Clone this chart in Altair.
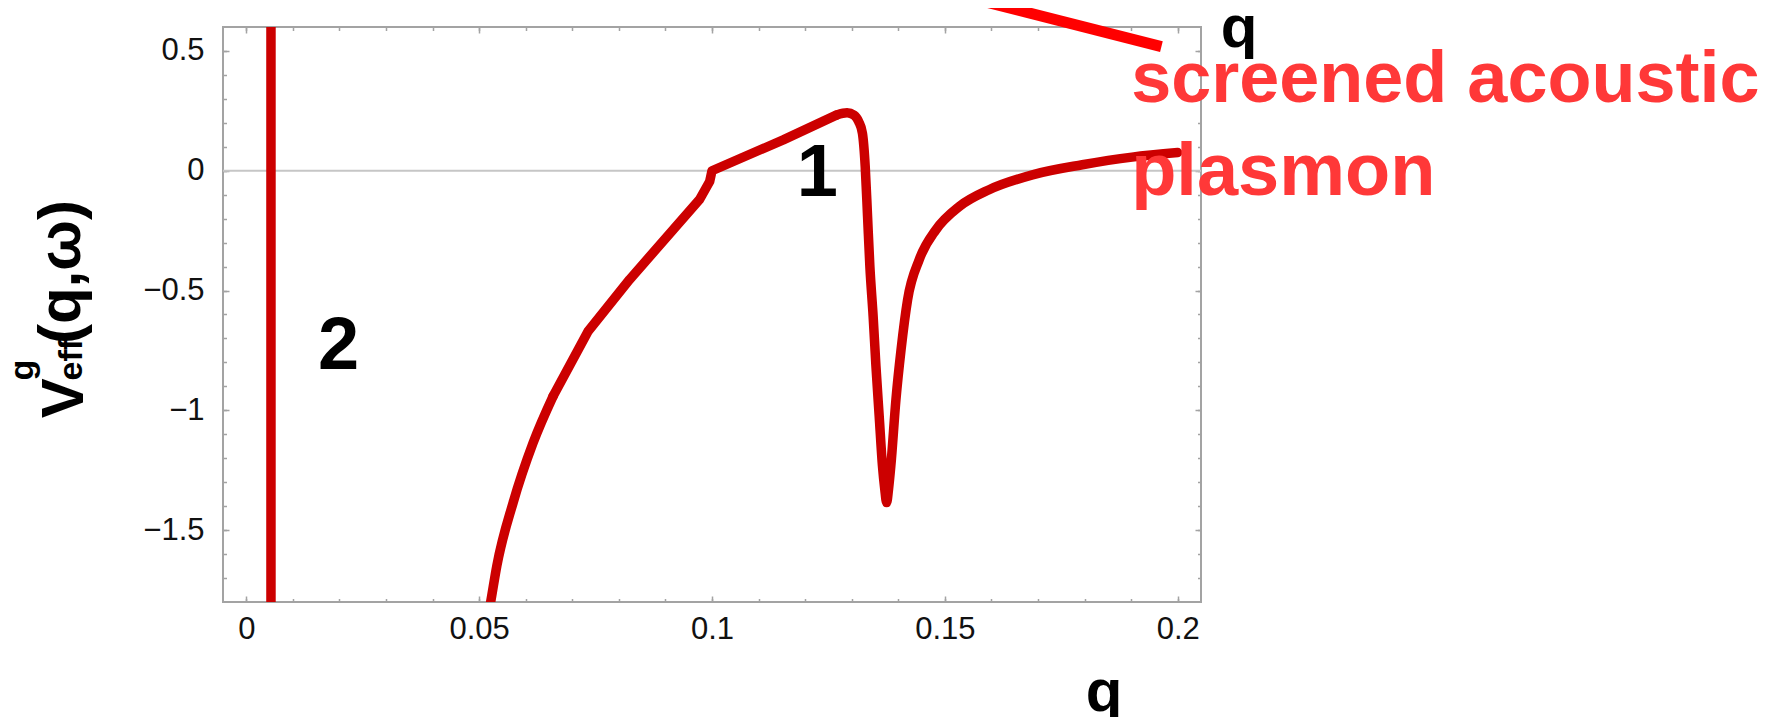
import altair as alt
import pandas as pd

# ---------------- data ----------------
# curve "1", lower part (smooth)
q_low = [0.0522, 0.0525, 0.0538, 0.0573, 0.0616, 0.0659]
v_low = [-1.830, -1.797, -1.649, -1.385, -1.135, -0.940]
# curve "1", middle part (piecewise straight, kink at q = 0.1)
q_mid = [0.0659, 0.0734, 0.0823, 0.0973, 0.0995, 0.1000, 0.1153, 0.1268]
v_mid = [-0.940, -0.670, -0.454, -0.121, -0.045, 0.000, 0.129, 0.233]
# curve "1", peak, dip and tail (smooth)
q_high = [0.1268, 0.1290, 0.1305, 0.1315, 0.1323, 0.1329, 0.1334, 0.1339, 0.1346, 0.1352,
          0.1359, 0.1366, 0.1371, 0.1375, 0.1379, 0.1384, 0.1395, 0.1406, 0.1420, 0.1445,
          0.1481, 0.1531, 0.1595, 0.1688, 0.1795, 0.1902, 0.2000]
v_high = [0.233, 0.242, 0.232, 0.205, 0.157, 0.018, -0.190, -0.400, -0.607, -0.815,
          -1.024, -1.232, -1.330, -1.385, -1.330, -1.232, -0.954, -0.746, -0.538, -0.371,
          -0.246, -0.149, -0.079, -0.017, 0.025, 0.057, 0.076]

# curve "2" (vertical branch)
q_branch2 = [0.0053, 0.0053]
v_branch2 = [-1.8, 0.6]

# pointer line toward the note
q_arrow = [0.1496, 0.1965]
v_arrow = [0.750, 0.518]

# text annotations
num_text = ["1", "2"]
num_q = [0.1226, 0.0198]
num_v = [-0.104, -0.829]

note_text = ["screened acoustic", "plasmon"]
note_q = [0.1900, 0.1900]
note_v = [0.2875, -0.100]
note_size = [72, 74]

qlab_text = ["q", "q"]
qlab_q = [0.1842, 0.2132]
qlab_v = [-2.254, 0.517]

# y title pieces (rotated)
yt_main_text = ["V"]
yt_main_q = [-0.0350]
yt_main_v = [-1.033]
yt_sup_text = ["g"]
yt_sup_q = [-0.0459]
yt_sup_v = [-0.875]
yt_sub_text = ["eff"]
yt_sub_q = [-0.0352]
yt_sub_v = [-0.875]
yt_arg_text = ["(q,ω)"]
yt_arg_q = [-0.0356]
yt_arg_v = [-0.423]

X_DOMAIN = [-0.005, 0.205]
Y_DOMAIN = [-1.8, 0.6]
X_LABELS = [0, 0.05, 0.1, 0.15, 0.2]
Y_LABELS = [-1.5, -1, -0.5, 0, 0.5]
X_MINOR = [round(0.01 * i, 2) for i in range(21)]
Y_MINOR = [round(-1.7 + 0.1 * i, 1) for i in range(23)]

W, H = 978, 575
FONT = "Liberation Sans"
CURVE = "#cc0000"
FRAME = "#a3a3a3"

xs = alt.Scale(domain=X_DOMAIN, nice=False, zero=False)
ys = alt.Scale(domain=Y_DOMAIN, nice=False, zero=False)


def tick_axis(orient, values, size, offset):
    return alt.Axis(orient=orient, values=values, tickSize=size, offset=offset,
                    labels=False, domain=False, grid=False, ticks=True,
                    tickColor=FRAME, tickWidth=1.5, title=None)


x_label_axis = alt.Axis(orient="bottom", values=X_LABELS, format="~g", ticks=False, tickSize=0,
                        domain=False, grid=False, labelFont=FONT, labelFontSize=31,
                        labelColor="#111111", labelPadding=12, title=None)
y_label_axis = alt.Axis(orient="left", values=Y_LABELS, format="~g", ticks=False, tickSize=0,
                        domain=False, grid=False, labelFont=FONT, labelFontSize=31,
                        labelColor="#111111", labelPadding=19, title=None)


def seg_df(q, v):
    return pd.DataFrame({"q": q, "v": v, "i": range(len(q))})


df_b2 = pd.DataFrame({"q": q_branch2, "v": v_branch2})
df_arrow = pd.DataFrame({"q": [q_arrow[0]], "v": [v_arrow[0]], "q2": [q_arrow[1]], "v2": [v_arrow[1]]})


def tdf(t, q, v):
    return pd.DataFrame({"t": t, "q": q, "v": v})


zero_line = alt.Chart(pd.DataFrame({"v": [0.0]})).mark_rule(color="#c6c6c6", strokeWidth=2).encode(
    y=alt.Y("v:Q", scale=ys, axis=None)
)


def curve_part(q, v, interp, xaxis=None, yaxis=None):
    return alt.Chart(seg_df(q, v)).mark_line(
        color=CURVE, strokeWidth=9.5, strokeCap="round", strokeJoin="round",
        clip=True, interpolate=interp
    ).encode(
        x=alt.X("q:Q", scale=xs, axis=xaxis),
        y=alt.Y("v:Q", scale=ys, axis=yaxis),
        order="i:Q",
    )


curve_low = curve_part(q_low, v_low, "monotone", x_label_axis, y_label_axis)
curve_mid = curve_part(q_mid, v_mid, "linear")
curve_high = curve_part(q_high, v_high, "monotone")

branch2 = alt.Chart(df_b2).mark_line(color=CURVE, strokeWidth=9.5, clip=True).encode(
    x=alt.X("q:Q", scale=xs, axis=tick_axis("top", X_LABELS, 6, -H)),
    y=alt.Y("v:Q", scale=ys, axis=tick_axis("right", Y_LABELS, 6, -W)),
)

arrow = alt.Chart(df_arrow).mark_rule(color="#ff0000", strokeWidth=11, strokeCap="butt").encode(
    x=alt.X("q:Q", scale=xs, axis=tick_axis("bottom", X_LABELS, 6, -H)),
    y=alt.Y("v:Q", scale=ys, axis=tick_axis("left", Y_LABELS, 6, -W)),
    x2="q2:Q",
    y2="v2:Q",
)

nums = alt.Chart(tdf(num_text, num_q, num_v)).mark_text(
    font=FONT, fontWeight="bold", fontSize=74, color="black", align="center", baseline="alphabetic"
).encode(
    x=alt.X("q:Q", scale=xs, axis=tick_axis("top", X_MINOR, 3.5, -H)),
    y=alt.Y("v:Q", scale=ys, axis=tick_axis("right", Y_MINOR, 3.5, -W)),
    text="t:N",
)

df_notes = tdf(note_text, note_q, note_v)
df_notes["s"] = note_size
notes = alt.Chart(df_notes).mark_text(
    font=FONT, fontWeight="bold", color="#ff3838", align="left", baseline="alphabetic"
).encode(
    x=alt.X("q:Q", scale=xs, axis=tick_axis("bottom", X_MINOR, 3.5, -H)),
    y=alt.Y("v:Q", scale=ys, axis=tick_axis("left", Y_MINOR, 3.5, -W)),
    size=alt.Size("s:Q", scale=None, legend=None),
    text="t:N",
)

qlabs = alt.Chart(tdf(qlab_text, qlab_q, qlab_v)).mark_text(
    font=FONT, fontWeight="bold", fontSize=60, color="black", align="center", baseline="alphabetic"
).encode(
    x=alt.X("q:Q", scale=xs, axis=None),
    y=alt.Y("v:Q", scale=ys, axis=None),
    text="t:N",
)


def ytitle(t, q, v, size, align):
    return alt.Chart(tdf(t, q, v)).mark_text(
        font=FONT, fontWeight="bold", fontSize=size, color="black", align=align,
        baseline="alphabetic", angle=270
    ).encode(
        x=alt.X("q:Q", scale=xs, axis=None),
        y=alt.Y("v:Q", scale=ys, axis=None),
        text="t:N",
    )


yt1 = ytitle(yt_main_text, yt_main_q, yt_main_v, 60, "left")
yt2 = ytitle(yt_sup_text, yt_sup_q, yt_sup_v, 34, "left")
yt3 = ytitle(yt_sub_text, yt_sub_q, yt_sub_v, 34, "left")
yt4 = ytitle(yt_arg_text, yt_arg_q, yt_arg_v, 60, "center")

chart = alt.layer(
    zero_line, curve_low, curve_mid, curve_high, branch2, nums, qlabs,
    yt1, yt2, yt3, yt4, notes, arrow
).resolve_axis(
    x="independent", y="independent"
).properties(
    width=W, height=H,
    autosize=alt.AutoSizeParams(type="none"),
    padding={"left": 215, "top": 19, "right": 582, "bottom": 115},
    background="white",
).configure_view(
    stroke=FRAME, strokeWidth=2
)

chart.save("out.html", embed_options={"renderer": "svg", "actions": False})
